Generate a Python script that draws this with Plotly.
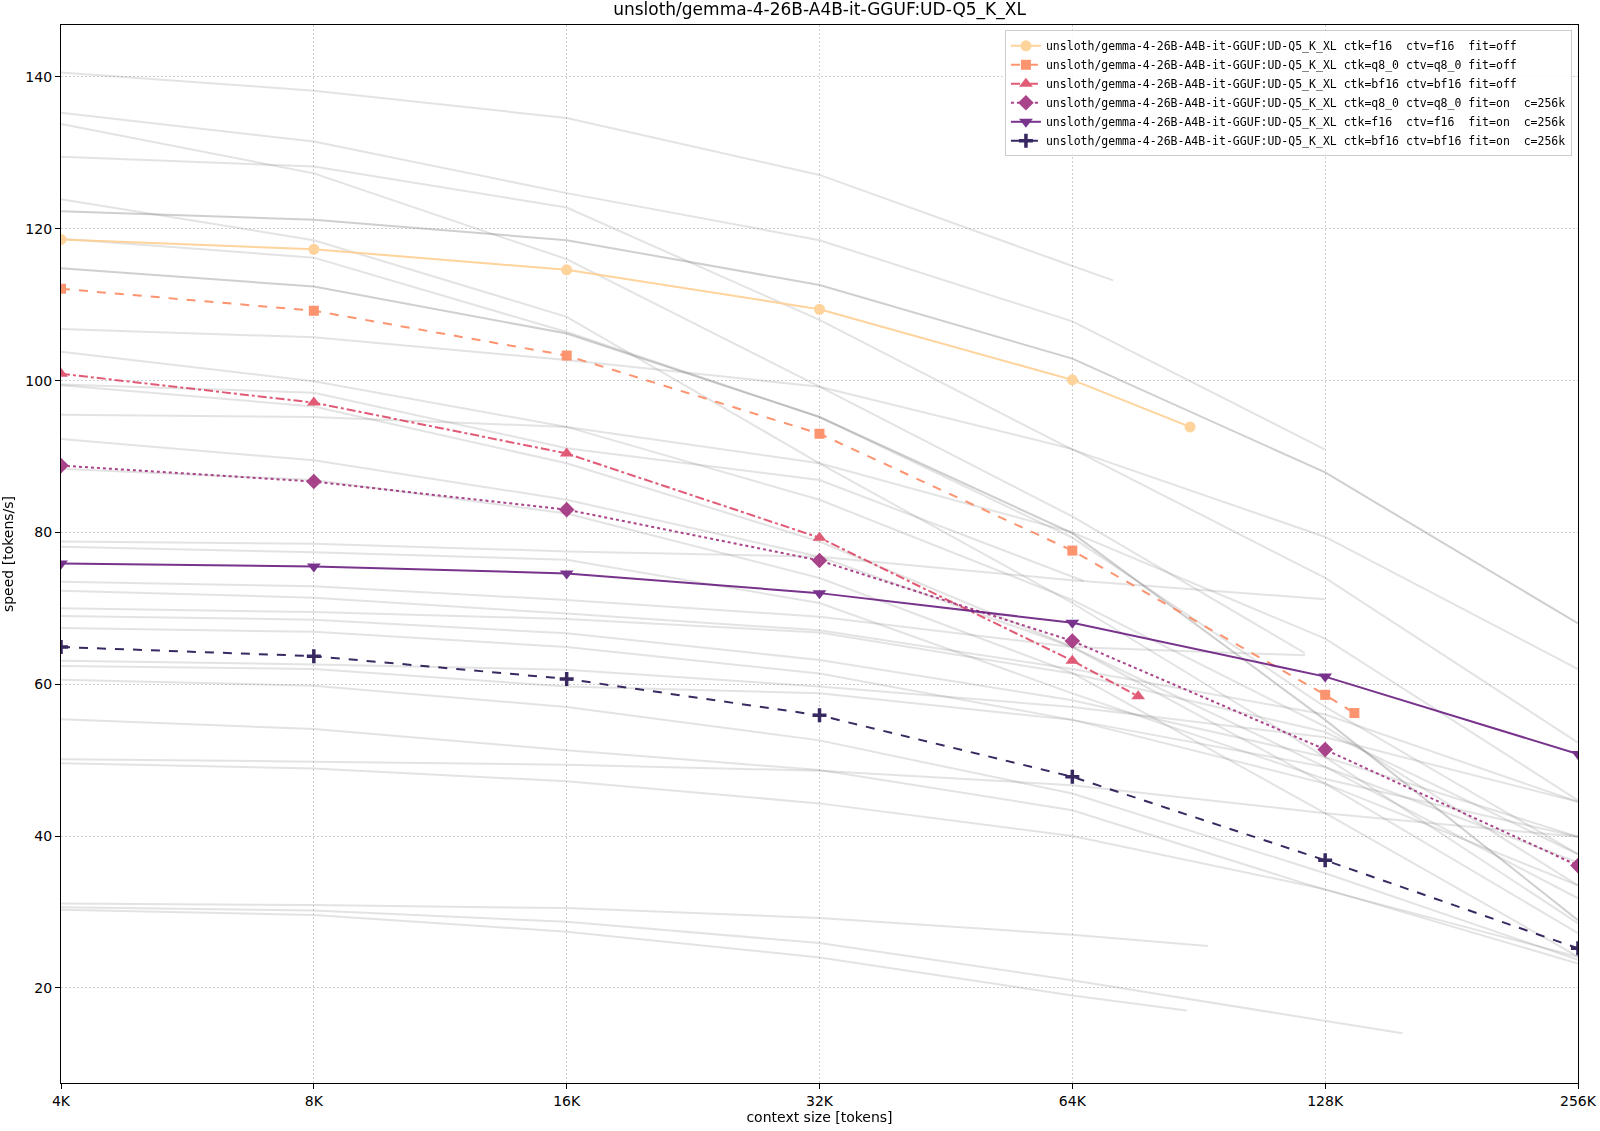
import numpy as np
import plotly.graph_objects as go

TITLE = "unsloth/gemma-4-26B-A4B-it-GGUF:UD-Q5_K_XL"
CTX = [4096, 8192, 16384, 32768, 65536, 131072, 262144]
CTX_LABELS = ["4K", "8K", "16K", "32K", "64K", "128K", "256K"]

# highlighted runs of this model
names = [
    "unsloth/gemma-4-26B-A4B-it-GGUF:UD-Q5_K_XL ctk=f16  ctv=f16  fit=off",
    "unsloth/gemma-4-26B-A4B-it-GGUF:UD-Q5_K_XL ctk=q8_0 ctv=q8_0 fit=off",
    "unsloth/gemma-4-26B-A4B-it-GGUF:UD-Q5_K_XL ctk=bf16 ctv=bf16 fit=off",
    "unsloth/gemma-4-26B-A4B-it-GGUF:UD-Q5_K_XL ctk=q8_0 ctv=q8_0 fit=on  c=256k",
    "unsloth/gemma-4-26B-A4B-it-GGUF:UD-Q5_K_XL ctk=f16  ctv=f16  fit=on  c=256k",
    "unsloth/gemma-4-26B-A4B-it-GGUF:UD-Q5_K_XL ctk=bf16 ctv=bf16 fit=on  c=256k",
]
ctx_f16_off = [4096, 8192, 16384, 32768, 65536, 90500]
speed_f16_off = [118.6, 117.3, 114.6, 109.4, 100.1, 93.9]
ctx_q8_off = [4096, 8192, 16384, 32768, 65536, 131072, 142000]
speed_q8_off = [112.1, 109.2, 103.3, 93.0, 77.6, 58.6, 56.2]
ctx_bf16_off = [4096, 8192, 16384, 32768, 65536, 78500]
speed_bf16_off = [100.9, 97.1, 90.4, 79.3, 63.1, 58.4]
speed_q8_on = [88.8, 86.7, 83.0, 76.3, 65.7, 51.4, 36.1]
speed_f16_on = [75.9, 75.5, 74.6, 72.0, 68.1, 61.0, 50.8]
speed_bf16_on = [64.9, 63.7, 60.7, 55.9, 47.8, 36.8, 25.2]

# other models / runs in the background (values at CTX, optional off-grid last point)
bg_speed = [
    [140.6, 138.2, 134.6, 127.1, 115.1],
    [135.3, 131.5, 124.7, 118.5, 107.8, 90.9],
    [133.8, 127.3, 116.0, 99.2, 82.1],
    [129.5, 128.2, 122.8, 108.0, 90.9, 79.4, 62.0],
    [123.9, 118.5, 108.4, 89.1, 70.7, 50.4, 28.5],
    [122.3, 121.2, 118.5, 112.6, 102.9, 87.9, 68.0],
    [118.7, 116.2, 106.4, 95.2, 79.3, 57.0, 37.6],
    [114.8, 112.4, 106.2, 95.2, 79.9, 55.3, 28.9],
    [106.8, 105.7, 102.7, 99.2, 91.0, 74.0, 52.3],
    [103.8, 99.9, 93.9, 84.3, 71.1, 54.4, 33.5],
    [99.5, 98.4, 91.1, 86.9],
    [99.4, 96.6, 89.1, 78.8, 64.9, 46.9, 27.2],
    [95.5, 95.2, 93.9, 89.1, 80.0, 66.0, 44.7],
    [92.3, 89.5, 84.3, 76.8, 64.9, 49.1, 31.8],
    [88.4, 86.9, 82.5, 74.0, 61.5, 43.0, 24.1],
    [78.8, 78.5, 77.5, 76.8, 73.7, 71.2],
    [78.1, 77.4, 76.4, 70.7, 58.8, 47.5, 39.9],
    [73.5, 72.9, 71.1, 68.9, 64.9],
    [72.3, 71.4, 69.3, 67.1, 62.0, 56.0, 44.5],
    [70.0, 69.5, 68.6, 66.8, 61.4, 53.7, 37.6],
    [69.0, 68.5, 66.7, 63.2, 57.9, 50.4, 39.9],
    [67.4, 66.9, 64.9, 61.4, 55.3, 46.9, 33.5],
    [63.1, 62.6, 61.9, 59.7, 57.0, 53.0, 44.5],
    [62.4, 62.0, 59.7, 58.8, 55.3, 49.1, 36.5],
    [60.6, 59.8, 57.0, 52.6, 45.6, 35.1, 23.7],
    [55.4, 54.1, 51.3, 48.7, 43.4, 32.9, 24.1],
    [50.1, 49.8, 49.4, 48.6, 46.7, 43.0, 39.9],
    [49.6, 48.9, 47.2, 44.3, 40.0, 33.0, 23.2],
    [31.1, 30.9, 30.5, 29.2, 27.0],
    [30.6, 30.2, 28.7, 25.9, 21.0],
    [30.3, 29.6, 27.4, 24.0, 19.0],
]
bg_tail_ctx = {0: 73300, 2: 124000, 10: 67600, 17: 124000, 28: 95000, 29: 162000, 30: 89700}
bg_tail_speed = {0: 113.2, 2: 64.1, 10: 73.6, 17: 63.8, 28: 25.5, 29: 14.0, 30: 17.0}
bg_dark = {5, 7}

colors = ["#fecf92", "#fc8961", "#de4968", "#a1307e", "#6a1d80", "#221150"]
symbols = ["circle", "square", "triangle-up", "diamond", "triangle-down", "cross-thin"]
sizes = [11, 10, 12, 12, 12, 10]
dashes = ["solid", "dash", "dashdot", "dot", "solid", "dash"]

fig = go.Figure()

for i, ys in enumerate(bg_speed):
    xs = CTX[:len(ys)]
    ys = list(ys)
    if i in bg_tail_ctx:
        xs = xs + [bg_tail_ctx[i]]
        ys = ys + [bg_tail_speed[i]]
    alpha = 0.38 if i in bg_dark else 0.22
    fig.add_trace(go.Scatter(
        x=xs, y=ys, mode="lines", showlegend=False, hoverinfo="skip",
        line=dict(color=f"rgba(128,128,128,{alpha})", width=2),
    ))

series = [
    (ctx_f16_off, speed_f16_off),
    (ctx_q8_off, speed_q8_off),
    (ctx_bf16_off, speed_bf16_off),
    (CTX, speed_q8_on),
    (CTX, speed_f16_on),
    (CTX, speed_bf16_on),
]
for i, (xs, ys) in enumerate(series):
    marker = dict(symbol=symbols[i], size=sizes[i], color=colors[i])
    if symbols[i] == "cross-thin":
        marker["line"] = dict(color=colors[i], width=3.5)
    fig.add_trace(go.Scatter(
        x=xs, y=ys, mode="lines+markers", name=names[i].replace(" ", "\u00a0"),
        opacity=0.9,
        line=dict(color=colors[i], width=2, dash=dashes[i]),
        marker=marker,
    ))

axis_common = dict(
    showline=True, linecolor="black", linewidth=1.3, mirror=True,
    ticks="outside", ticklen=5, tickcolor="black", automargin=False,
    showgrid=True, gridcolor="#cfcfcf", griddash="1.5px,2.5px", gridwidth=1,
    zeroline=False, tickfont=dict(size=14, color="black"),
)
fig.update_layout(
    width=1600, height=1131,
    margin=dict(l=61, r=22, t=25, b=48),
    plot_bgcolor="white", paper_bgcolor="white",
    font=dict(family="DejaVu Sans", color="black"),
    title=dict(text=TITLE, x=0.5, xref="paper", y=0.997, yref="container",
               yanchor="top", font=dict(size=17, color="black")),
    xaxis=dict(type="log", range=[np.log10(4096), np.log10(262144)],
               tickvals=CTX, ticktext=CTX_LABELS,
               title=dict(text="context size [tokens]", font=dict(size=14), standoff=4),
               **axis_common),
    yaxis=dict(range=[7.46, 146.85], tickvals=[20, 40, 60, 80, 100, 120, 140],
               title=dict(text="speed [tokens/s]", font=dict(size=14), standoff=8),
               **axis_common),
    legend=dict(x=0.996, y=0.995, xanchor="right", yanchor="top",
                bgcolor="rgba(255,255,255,0.85)", bordercolor="#cccccc", borderwidth=1,
                font=dict(family="DejaVu Sans Mono", size=11.5, color="black"),
                tracegroupgap=0),
)

# page body has an 8px default margin; drop it so the figure sits at the window corner
fig.write_html("out.html", config={"displayModeBar": False},
               post_script="document.body.style.margin='0';")
